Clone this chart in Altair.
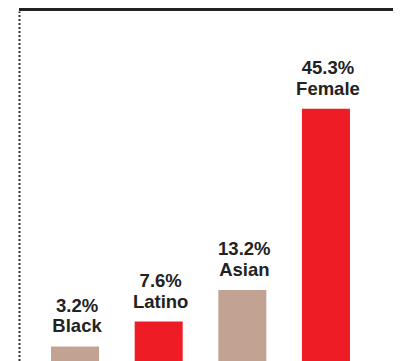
import altair as alt
import pandas as pd

categories = ["Black", "Latino", "Asian", "Female"]
values = [3.2, 7.6, 13.2, 45.3]
labels = ["3.2%", "7.6%", "13.2%", "45.3%"]

df = pd.DataFrame({"cat": categories, "val": values, "pct": labels})

RED = "#EE1C25"
TAN = "#C2A393"

x = alt.X("cat:N", sort=categories, axis=None,
          scale=alt.Scale(paddingInner=0.426, paddingOuter=0.383))
y = alt.Y("val:Q", scale=alt.Scale(domain=[0, 62.6], nice=False, zero=True),
          axis=alt.Axis(labels=False, ticks=False, grid=False, title=None,
                        domain=True, domainDash=[2, 2], domainColor="#333333",
                        domainWidth=2))

bars = alt.Chart(df).mark_bar().encode(
    x=x, y=y,
    color=alt.Color("cat:N", legend=None,
                    scale=alt.Scale(domain=categories, range=[TAN, RED, TAN, RED])),
)

text_style = dict(baseline="alphabetic", fontSize=18.5, fontWeight="bold",
                  font="Liberation Sans", color="#222222", dx=2)

name_text = alt.Chart(df).mark_text(dy=-14, **text_style).encode(
    x=x, y=y, text="cat:N")
pct_text = alt.Chart(df).mark_text(dy=-34.7, **text_style).encode(
    x=x, y=y, text="pct:N")

top = alt.Chart(df).mark_rule(color="#222222", strokeWidth=3).encode(
    x=alt.value(0), x2=alt.value(374), y=alt.value(-1.5)
)

chart = (top + bars + name_text + pct_text).properties(
    width=363, height=353.5,
    padding={"left": 11, "top": 3, "right": 11, "bottom": 0},
    autosize=alt.AutoSizeParams(type="none"),
).configure_view(stroke=None)

chart.save("out.html", embed_options={"renderer": "svg", "actions": False})
